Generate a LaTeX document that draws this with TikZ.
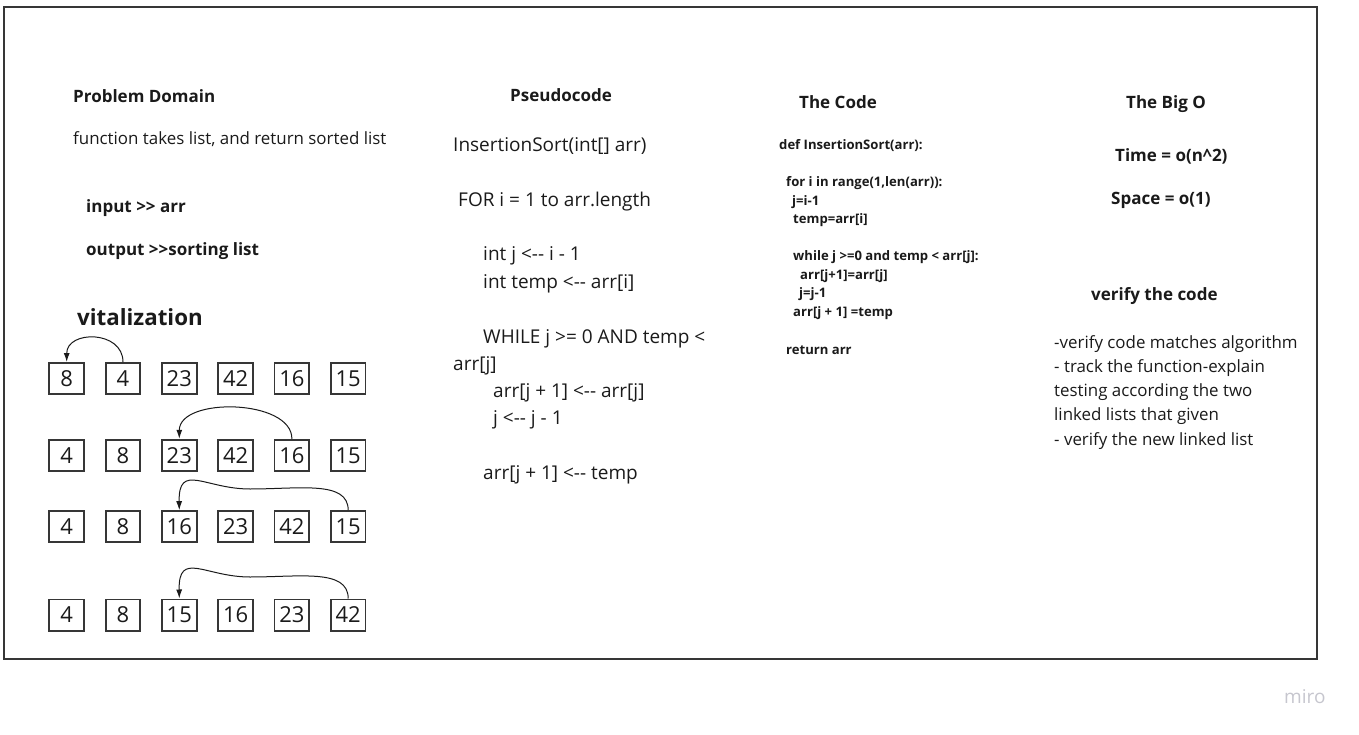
\documentclass[tikz,border=0pt]{standalone}
\usepackage{fontspec}
\setmainfont{Open Sans}[Ligatures=TeXOff]
\usetikzlibrary{arrows.meta}
\definecolor{inkframe}{HTML}{363636}
\definecolor{inktext}{HTML}{1A1A1A}
\definecolor{mirogray}{HTML}{C6C6CE}
\tikzset{
 head/.style={anchor=base west,inner sep=0pt,text=inktext,font=\fontsize{17}{20}\selectfont\bfseries},
 body/.style={anchor=base west,inner sep=0pt,text=inktext,font=\fontsize{16.9}{20}\selectfont},
 pseudo/.style={anchor=base west,inner sep=0pt,text=inktext,font=\fontsize{19}{22}\selectfont},
 code/.style={anchor=base west,inner sep=0pt,text=inktext,font=\fontsize{13.1}{16}\selectfont\bfseries},
 cell/.style={draw=inkframe,line width=1.8pt,minimum width=34.7pt,minimum height=31.2pt,inner sep=0pt,text=inktext,font=\fontsize{22}{22}\selectfont},
 swap/.style={->,line width=1pt,inktext}
}
\begin{document}
\begin{tikzpicture}[x=1pt,y=-1pt,>={Latex[length=9pt,width=6pt]}]
 \useasboundingbox (0,0) rectangle (1359,735);
 \draw[inkframe,line width=2pt] (3.5,7) rectangle (1316.5,659);
 % problem domain
 \node[head] (pd) at (73,103) {Problem Domain};
 \node[body] (pdtext) at (73,145) {function takes list, and return sorted list};
 \node[head] (pdin) at (86,213) {input >> arr};
 \node[head] (pdout) at (86,256) {output >>sorting list};
 \node[head,font=\fontsize{22.3}{26}\selectfont\bfseries] (vis) at (77,325) {vitalization};
 \foreach \v [count=\i] in {8,4,23,42,16,15}
  \node[cell] (a\i) at (66.7+56.3*\i-56.3,378.5) {\v};
 \foreach \v [count=\i] in {4,8,23,42,16,15}
  \node[cell] (b\i) at (66.7+56.3*\i-56.3,455.3) {\v};
 \foreach \v [count=\i] in {4,8,16,23,42,15}
  \node[cell] (c\i) at (66.7+56.3*\i-56.3,526.7) {\v};
 \foreach \v [count=\i] in {4,8,15,16,23,42}
  \node[cell] (d\i) at (66.7+56.3*\i-56.3,615) {\v};
 \draw[swap] (a2.north) .. controls +(0,-32) and +(0,-32) .. (a1.north);
 \draw[swap] (b5.north) .. controls +(0,-40) and +(0,-42) .. (b3.north);
 \draw[swap] (c6.north) .. controls +(0,-30) and (300,489) .. (250,489)
  .. controls (205,489) and (178.4,462) .. (c3.north);
 \draw[swap] (d6.north) .. controls +(0,-30) and (300,577) .. (250,577)
  .. controls (205,577) and (178.4,550) .. (d3.north);
 % pseudocode
 \node[head] (ps) at (510,102) {Pseudocode};
 \node[pseudo] (ps1) at (453,152) {InsertionSort(int[] arr)};
 \node[pseudo] (ps2) at (458,207) {FOR i = 1 to arr.length};
 \node[pseudo] (ps3) at (483,261) {int j <-- i - 1};
 \node[pseudo] (ps4) at (483,288) {int temp <-- arr[i]};
 \node[pseudo] (ps5) at (483,343) {WHILE j >= 0 AND temp <};
 \node[pseudo] (ps6) at (453,370) {arr[j]};
 \node[pseudo] (ps7) at (493,397) {arr[j + 1] <-- arr[j]};
 \node[pseudo] (ps8) at (493,424) {j <-- j - 1};
 \node[pseudo] (ps9) at (483,479) {arr[j + 1] <-- temp};
 % the code
 \node[head] (tc) at (799,109) {The Code};
 \node[code] (tc1) at (779,150) {def InsertionSort(arr):};
 \node[code] (tc2) at (786,187) {for i in range(1,len(arr)):};
 \node[code] (tc3) at (792,205.5) {j=i-1};
 \node[code] (tc4) at (793,224) {temp=arr[i]};
 \node[code] (tc5) at (793,261) {while j >=0 and temp < arr[j]:};
 \node[code] (tc6) at (800,279.5) {arr[j+1]=arr[j]};
 \node[code] (tc7) at (799,298) {j=j-1};
 \node[code] (tc8) at (793,316.5) {arr[j + 1] =temp};
 \node[code] (tc9) at (786,354) {return arr};
 % big o
 \node[head] (bo) at (1126,109) {The Big O};
 \node[head] (bot) at (1115,162) {Time = o(n\^{}2)};
 \node[head] (bos) at (1111,205) {Space = o(1)};
 \node[head] (vc) at (1091,300) {verify the code};
 \node[body] (vc1) at (1054,348) {-verify code matches algorithm};
 \node[body] (vc2) at (1054,372.3) {- track the function-explain};
 \node[body] (vc3) at (1054,396.6) {testing according the two};
 \node[body] (vc4) at (1054,420.9) {linked lists that given};
 \node[body] (vc5) at (1054,445.2) {- verify the new linked list};
 \node[anchor=base west,inner sep=0pt,text=mirogray,font=\fontsize{19}{20}\selectfont] (miro) at (1284,703) {miro};
\end{tikzpicture}
\end{document}
